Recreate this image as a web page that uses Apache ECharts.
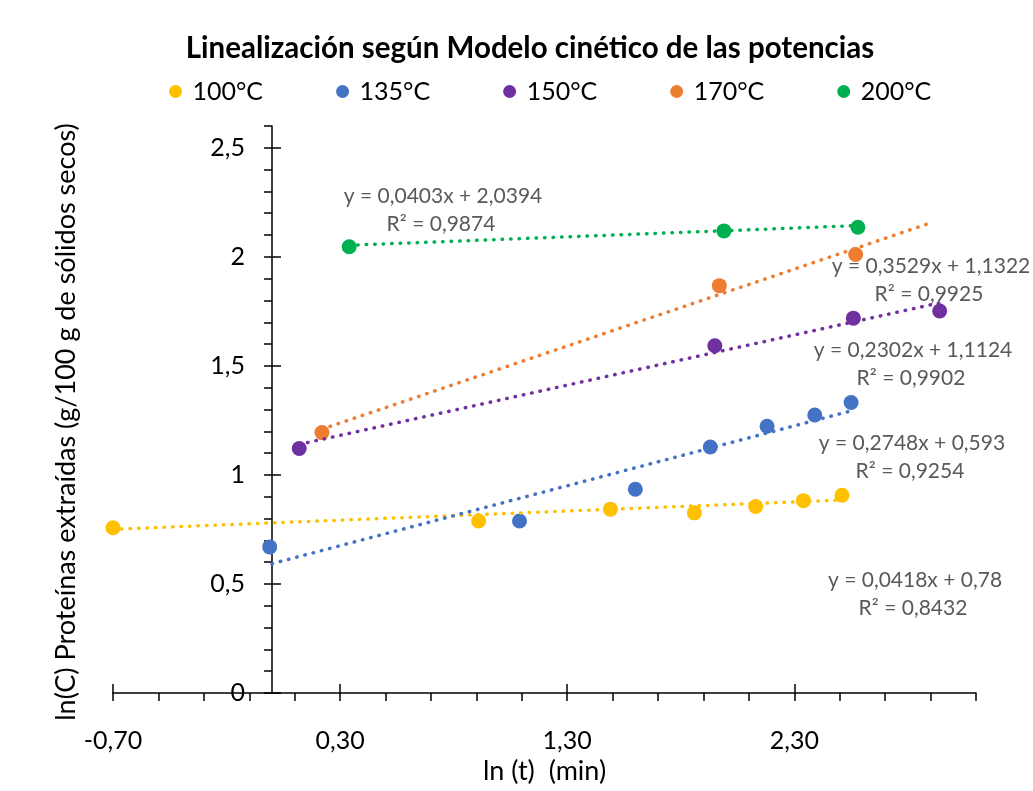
<!DOCTYPE html>
<html>
<head>
<meta charset="utf-8">
<script src="https://cdn.jsdelivr.net/npm/echarts@6/dist/echarts.min.js"></script>
<style>
html,body{margin:0;padding:0;background:#fff}
#chart{width:1033px;height:791px}
</style>
</head>
<body>
<div id="chart"></div>
<script>
// series names and colours
var temps = ['100°C', '135°C', '150°C', '170°C', '200°C'];
var colors = ['#FFC000', '#4472C4', '#7030A0', '#ED7D31', '#00B050'];

// ln(t) and ln(C)
var x100 = [-0.70, 0.91, 1.49, 1.86, 2.13, 2.34, 2.51];
var y100 = [0.758, 0.789, 0.843, 0.826, 0.855, 0.882, 0.907];
var x135 = [-0.01, 1.09, 1.60, 1.93, 2.18, 2.39, 2.55];
var y135 = [0.670, 0.789, 0.934, 1.128, 1.223, 1.275, 1.332];
var x150 = [0.12, 1.95, 2.56, 2.94];
var y150 = [1.121, 1.592, 1.719, 1.752];
var x170 = [0.22, 1.97, 2.57];
var y170 = [1.194, 1.868, 2.011];
var x200 = [0.34, 1.99, 2.58];
var y200 = [2.046, 2.119, 2.136];

// trendlines as printed on the chart
var slopes = [0.0418, 0.2748, 0.2302, 0.3529, 0.0403];
var intercepts = [0.78, 0.593, 1.1124, 1.1322, 2.0394];
var r2 = ['0,8432', '0,9254', '0,9902', '0,9925', '0,9874'];
var lineFrom = [-0.70, 0.00, 0.12, 0.22, 0.34];
var lineTo = [2.51, 2.55, 2.94, 2.91, 2.58];

var xs = [x100, x135, x150, x170, x200];
var ys = [y100, y135, y150, y170, y200];

var FONT = 'Lato';
var comma = function (v) { return String(v).replace('.', ','); };

var chart = echarts.init(document.getElementById('chart'));

var series = [];
temps.forEach(function (name, i) {
    var pts = [];
    for (var k = 0; k < xs[i].length; k++) pts.push([xs[i][k], ys[i][k]]);
    series.push({
        name: name,
        type: 'scatter',
        data: pts,
        symbolSize: 15,
        itemStyle: {color: colors[i], opacity: 1},
        z: 3
    });
});
temps.forEach(function (name, i) {
    var f = function (x) { return slopes[i] * x + intercepts[i]; };
    series.push({
        name: name + ' tendencia',
        type: 'line',
        data: [[lineFrom[i], f(lineFrom[i])], [lineTo[i], f(lineTo[i])]],
        showSymbol: false,
        symbol: 'none',
        silent: true,
        lineStyle: {color: colors[i], width: 3.5, type: [0.5, 8], cap: 'round'},
        z: 4
    });
});

// equation label centres (pixels)
var eqPos = [[915, 580], [912, 443], [913, 350], [931, 266], [443, 196]];
var graphics = [];
temps.forEach(function (name, i) {
    var eq = 'y = ' + comma(slopes[i]) + 'x + ' + comma(intercepts[i]);
    graphics.push({
        type: 'text', x: eqPos[i][0], y: eqPos[i][1],
        style: {text: eq, fill: '#595959', font: '21px ' + FONT, textAlign: 'center', textVerticalAlign: 'middle'}
    });
    graphics.push({
        type: 'text', x: eqPos[i][0] - 2, y: eqPos[i][1] + 28,
        style: {text: 'R² = ' + r2[i], fill: '#595959', font: '21px ' + FONT, textAlign: 'center', textVerticalAlign: 'middle'}
    });
});
// y axis title
graphics.push({
    type: 'text', x: 66, y: 422, rotation: Math.PI / 2,
    style: {text: 'ln(C) Proteínas extraídas (g/100 g de sólidos secos)', fill: '#000',
        font: '27px ' + FONT, textAlign: 'center', textVerticalAlign: 'middle'}
});

var option = {
    animation: false,
    backgroundColor: '#fff',
    textStyle: {fontFamily: FONT},
    title: {
        text: 'Linealización según Modelo cinético de las potencias',
        left: 525, top: 28, textAlign: 'center',
        textStyle: {fontFamily: FONT, fontWeight: 'bold', fontSize: 29.5, color: '#000'}
    },
    legend: {
        data: temps,
        left: 164, top: 74,
        icon: 'circle', itemWidth: 24, itemHeight: 13, itemGap: 73, symbolKeepAspect: true,
        textStyle: {fontFamily: FONT, fontSize: 25, color: '#000'}
    },
    grid: {left: 113, right: 57, top: 126, bottom: 98, containLabel: false, outerBoundsMode: 'none'},
    xAxis: [{
        type: 'value', min: -0.7, max: 3.1, interval: 1, position: 'bottom',
        name: 'ln (t)  (min)', nameLocation: 'middle', nameGap: 65,
        nameTextStyle: {fontFamily: FONT, fontSize: 27, color: '#000'},
        axisLine: {show: true, onZero: true, lineStyle: {color: '#000', width: 1.5}},
        axisTick: {show: true, inside: true, length: 9, lineStyle: {color: '#000', width: 1.5}},
        axisLabel: {margin: 35, fontFamily: FONT, fontSize: 25, color: '#000', showMaxLabel: false,
            formatter: function (v) { return v.toFixed(2).replace('.', ','); }},
        splitLine: {show: false}
    }, {
        type: 'value', min: -0.7, max: 3.1, interval: 0.2, position: 'bottom',
        axisLine: {show: false, onZero: true},
        axisTick: {show: true, inside: false, length: 8, lineStyle: {color: '#000', width: 1.5}},
        axisLabel: {show: false},
        splitLine: {show: false}
    }],
    yAxis: [{
        type: 'value', min: 0, max: 2.6, interval: 0.5, position: 'left',
        axisLine: {show: true, onZero: true, lineStyle: {color: '#000', width: 1.5}},
        axisTick: {show: true, inside: true, length: 9, lineStyle: {color: '#000', width: 1.5}},
        axisLabel: {margin: -132, fontFamily: FONT, fontSize: 25, color: '#000', showMaxLabel: false,
            formatter: function (v) { return comma(v); }},
        splitLine: {show: false}
    }, {
        type: 'value', min: 0, max: 2.6, interval: 0.1, position: 'left',
        axisLine: {show: false, onZero: true},
        axisTick: {show: true, inside: false, length: 8, lineStyle: {color: '#000', width: 1.5}},
        axisLabel: {show: false},
        splitLine: {show: false}
    }],
    graphic: graphics,
    series: series
};
chart.setOption(option);
</script>
</body>
</html>
